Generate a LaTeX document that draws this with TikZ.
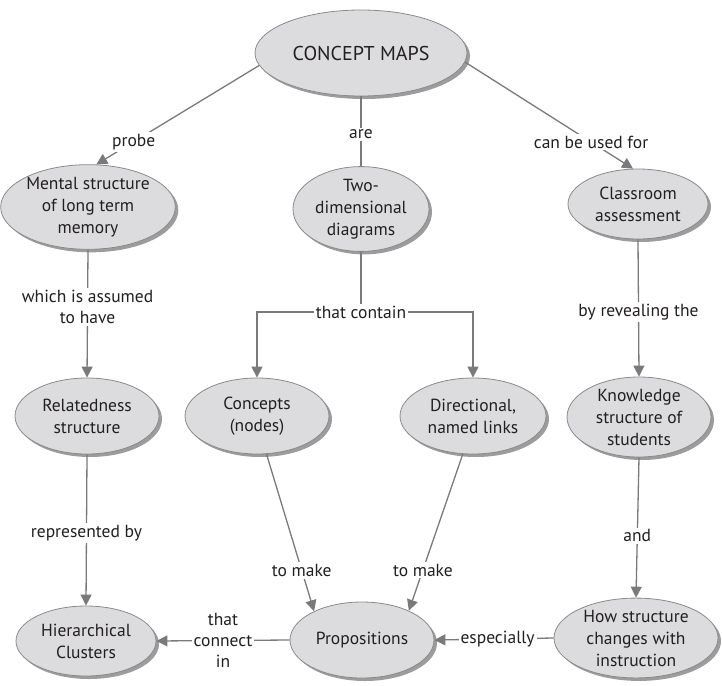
\documentclass[tikz,border=0pt]{standalone}
\usepackage{fontspec}
\setmainfont{PT Sans}
\usetikzlibrary{shapes.geometric,arrows.meta,shadows}
\definecolor{nodegray}{HTML}{DCDCDE}
\definecolor{bordergray}{HTML}{8A8A8A}
\definecolor{shadowgray}{HTML}{9C9C9C}
\definecolor{linegray}{HTML}{7A7A7A}
\definecolor{txt}{HTML}{231F20}
\tikzset{
  cnode/.style={ellipse, draw=bordergray, line width=0.8pt, fill=nodegray, inner sep=0pt,
    align=center, text=txt, font=\fontsize{17.5}{22}\selectfont,
    general shadow={fill=shadowgray, shadow xshift=3pt, shadow yshift=-3pt}},
  conn/.style={draw=linegray, line width=1.3pt},
  arr/.style={conn, -{Triangle[length=11pt,width=11pt]}},
  lbl/.style={fill=white, inner sep=2pt, align=center, text=txt, font=\fontsize{17.5}{21}\selectfont}
}
\begin{document}
\begin{tikzpicture}[x=1pt,y=-1pt]
\useasboundingbox (0,0) rectangle (722,685);
\node[cnode, minimum width=212pt, minimum height=86pt, font=\fontsize{20}{24}\selectfont] (cm) at (361,53) {CONCEPT MAPS};
\node[cnode, minimum width=160pt, minimum height=82pt] (ms) at (88,207) {Mental structure\\of long term\\memory};
\node[cnode, minimum width=136pt, minimum height=74pt] (td) at (361,209) {Two-\\dimensional\\diagrams};
\node[cnode, minimum width=140pt, minimum height=70pt] (ca) at (638,204) {Classroom\\assessment};
\node[cnode, minimum width=144pt, minimum height=76pt] (rs) at (87,416) {Relatedness\\structure};
\node[cnode, minimum width=144pt, minimum height=76pt] (cn) at (257,416) {Concepts\\(nodes)};
\node[cnode, minimum width=146pt, minimum height=76pt] (dl) at (473,416) {Directional,\\named links};
\node[cnode, minimum width=144pt, minimum height=80pt] (ks) at (639,417) {Knowledge\\structure of\\students};
\node[cnode, minimum width=140pt, minimum height=70pt] (hc) at (86,641) {Hierarchical\\Clusters};
\node[cnode, minimum width=144pt, minimum height=76pt] (pr) at (362,640) {Propositions};
\node[cnode, minimum width=164pt, minimum height=76pt] (hs) at (636,638) {How structure\\changes with\\instruction};

\draw[arr] (cm.187) -- node[lbl, pos=0.77] {probe} (ms.79);
\draw[conn] (cm.south) -- node[lbl, pos=0.54] {are} (td.north);
\draw[arr] (cm.-5) -- node[lbl, pos=0.75] {can be used for} (ca.98);
\draw[arr] (ms.south) -- node[lbl, pos=0.45] {which is assumed\\to have} (rs.north);
\node[lbl] (tc) at (361,312) {that contain};
\draw[conn] (td.south) -- (tc.north);
\draw[arr] (tc.west) -| (cn.north);
\draw[arr] (tc.east) -| (dl.north);
\draw[arr] (ca.south) -- node[lbl, pos=0.53] {by revealing the} (ks.north);
\draw[arr] (rs.south) -- node[lbl, pos=0.52] {represented by} (hc.north);
\draw[arr] (cn.-76) -- node[lbl, pos=0.74] {to make} (pr.149);
\draw[arr] (dl.-105) -- node[lbl, pos=0.74] {to make} (pr.32);
\draw[arr] (ks.south) -- node[lbl, pos=0.56] {and} (hs.north);
\draw[arr] (hs.west) -- node[lbl, pos=0.47] {especially} (pr.east);
\draw[arr] (pr.west) -- node[lbl, pos=0.5] {that\\connect\\in} (hc.east);
\end{tikzpicture}
\end{document}
